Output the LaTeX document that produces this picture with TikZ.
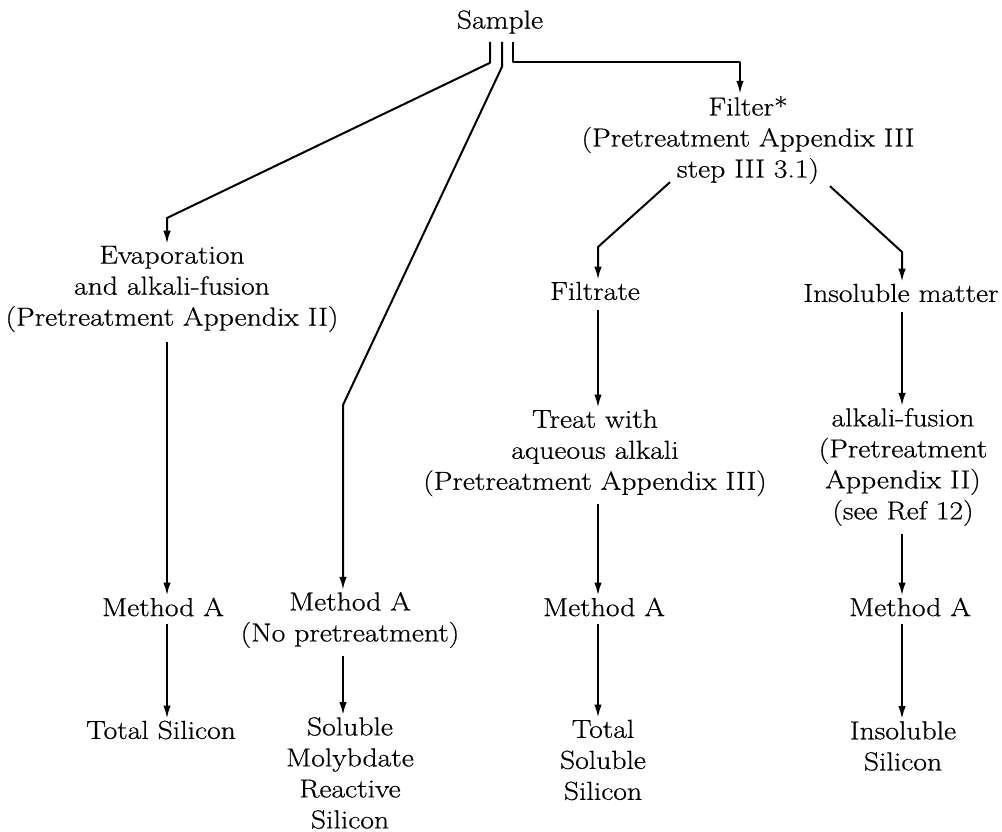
\documentclass[tikz,border=0pt]{standalone}
\usepackage{fontspec}
\setmainfont{Latin Modern Roman}[FakeStretch=1.14,FakeBold=0.6]
\usetikzlibrary{arrows.meta}
\begin{document}
\begin{tikzpicture}[x=1pt,y=-1pt,
  txt/.style={align=center,inner sep=2pt,font=\fontsize{26}{31}\selectfont},
  ln/.style={line width=2pt,line join=round},
  arr/.style={ln,-{Latex[length=13pt,width=7.5pt]}}]
\useasboundingbox (0,0) rectangle (1002,832);
% nodes
\node[txt] (sample) at (500,22) {Sample};
\node[txt] (filter) at (748,140) {Filter*\\(Pretreatment Appendix III\\step III 3.1)};
\node[txt] (evap) at (172,289) {Evaporation\\and alkali-fusion\\(Pretreatment Appendix II)};
\node[txt] (filtrate) at (595,291) {Filtrate};
\node[txt] (insol) at (901,293) {Insoluble matter};
\node[txt] (treat) at (595,453) {Treat with\\aqueous alkali\\(Pretreatment Appendix III)};
\node[txt] (fusion) at (903,467) {alkali-fusion\\(Pretreatment\\Appendix II)\\(see Ref 12)};
\node[txt] (mA1) at (163,607) {Method A};
\node[txt] (mA2) at (350,620) {Method A\\(No pretreatment)};
\node[txt] (mA3) at (604,607) {Method A};
\node[txt] (mA4) at (910,607) {Method A};
\node[txt] (ts) at (161,730) {Total Silicon};
\node[txt] (smrs) at (350,773) {Soluble\\Molybdate\\Reactive\\Silicon};
\node[txt] (tss) at (603,760) {Total\\Soluble\\Silicon};
\node[txt] (iss) at (903,746) {Insoluble\\Silicon};
% column / bend coordinates
\coordinate (c1) at (167,0);
\coordinate (c2) at (343,0);
\coordinate (c3) at (598,0);
\coordinate (c4) at (902,0);
\coordinate (k1) at (167,218);
\coordinate (k2) at (343,405);
\coordinate (k3) at (740,62);
\coordinate (k4) at (598,247);
\coordinate (k5) at (902,252);
% connectors from Sample
\draw[arr] ([xshift=-10pt,yshift=-6pt]sample.south) -- ++(0,21) -- (k1) -- (evap.north -| k1);
\draw[arr] ([xshift=2pt,yshift=-6pt]sample.south) -- ++(0,25) -- (k2) -- (mA2.north -| k2);
\draw[arr] ([xshift=13pt,yshift=-6pt]sample.south) -- ++(0,20) -| (filter.north -| k3);
% from Filter
\draw[arr] ([xshift=-78pt,yshift=4pt]filter.south) -- (k4) -- (filtrate.north -| k4);
\draw[arr] ([xshift=82pt]filter.south) -- (k5) -- (insol.north -| k5);
% vertical arrows
\draw[arr] ([yshift=-8pt]evap.south -| c1) -- (mA1.north -| c1);
\draw[arr] ([yshift=-6pt]mA1.south -| c1) -- (ts.north -| c1);
\draw[arr] ([yshift=-6pt]mA2.south -| c2) -- (smrs.north -| c2);
\draw[arr] ([yshift=-8pt]filtrate.south -| c3) -- (treat.north -| c3);
\draw[arr] ([yshift=-6pt]treat.south -| c3) -- (mA3.north -| c3);
\draw[arr] ([yshift=-6pt]mA3.south -| c3) -- (tss.north -| c3);
\draw[arr] ([yshift=-8pt]insol.south -| c4) -- (fusion.north -| c4);
\draw[arr] ([yshift=-6pt]fusion.south -| c4) -- (mA4.north -| c4);
\draw[arr] ([yshift=-6pt]mA4.south -| c4) -- (iss.north -| c4);
\end{tikzpicture}
\end{document}
